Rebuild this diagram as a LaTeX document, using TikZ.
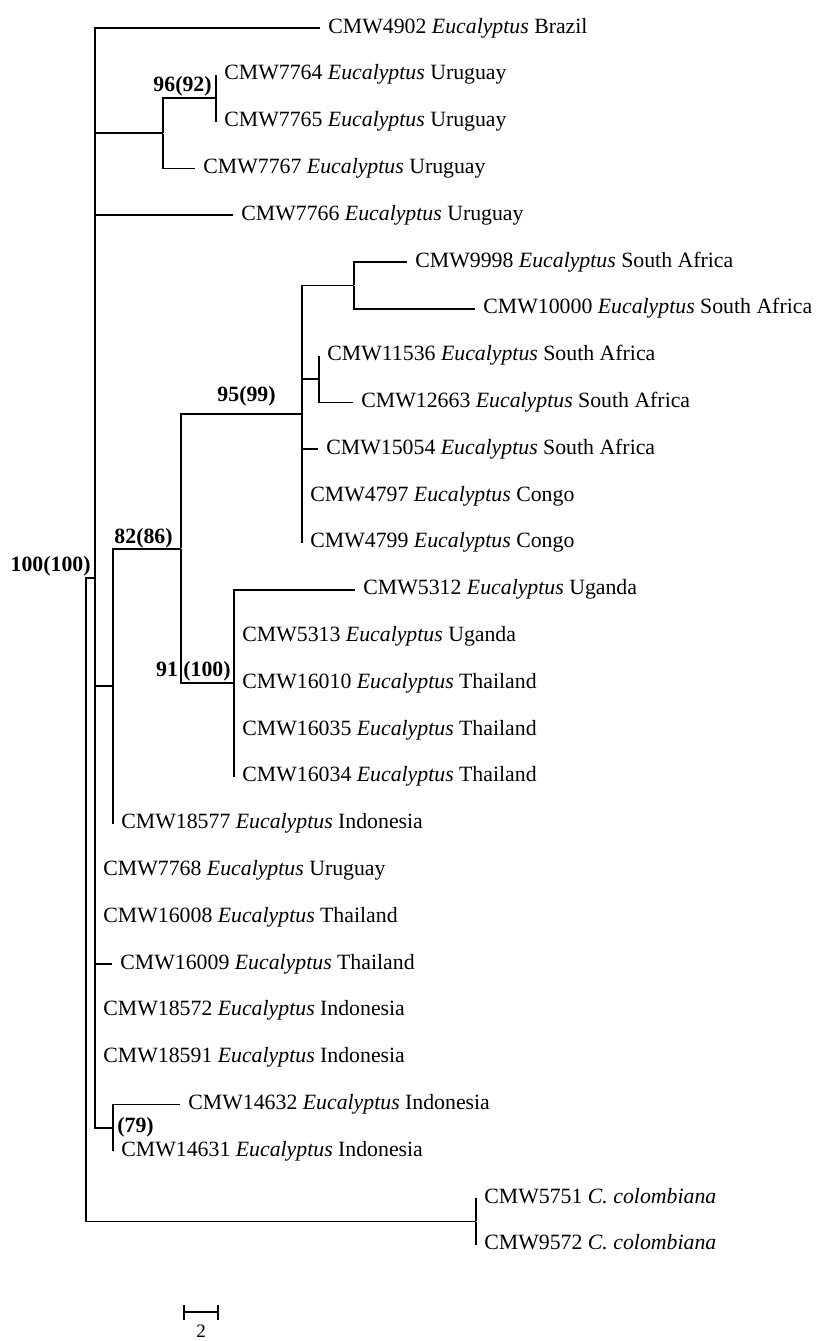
\documentclass[tikz,border=0pt]{standalone}
\usepackage{fontspec}
\setmainfont{Liberation Serif}
\usetikzlibrary{arrows.meta}
\tikzset{
    every node/.style={inner sep=0pt, minimum size=0pt,
    	font=\fontsize{21.8}{26}\selectfont}
}
\tikzset{
    every edge/.append style={line width=1.8pt, to path={|- (\tikztotarget)}}
}
\tikzset{
	tiplab/.style={anchor=base west, xshift=8pt, yshift=-5pt},
	boot/.style={font=\fontsize{21.8}{26}\selectfont\bfseries},
	scalebar/.style={line width=1.8pt, arrows={Bar[width=15pt]-Bar[width=15pt]}}
}

\begin{document}
\begin{tikzpicture}[x=1pt, y=-1pt]
	\useasboundingbox (0,0) rectangle (816,1341);
	% tips
	\node (1) [label={[tiplab]right:{CMW4902 \textit{Eucalyptus} Brazil}}] at (320, 28) {};
	\node (2) [label={[tiplab]right:{CMW7764 \textit{Eucalyptus} Uruguay}}] at (216, 74.8) {};
	\node (3) [label={[tiplab]right:{CMW7765 \textit{Eucalyptus} Uruguay}}] at (216, 121.6) {};
	\node (4) [label={[tiplab]right:{CMW7767 \textit{Eucalyptus} Uruguay}}] at (195, 168.4) {};
	\node (5) [label={[tiplab]right:{CMW7766 \textit{Eucalyptus} Uruguay}}] at (233, 215.2) {};
	\node (6) [label={[tiplab]right:{CMW9998 \textit{Eucalyptus} South Africa}}] at (407, 262) {};
	\node (7) [label={[tiplab]right:{CMW10000 \textit{Eucalyptus} South Africa}}] at (475, 308.8) {};
	\node (8) [label={[tiplab]right:{CMW11536 \textit{Eucalyptus} South Africa}}] at (319, 355.6) {};
	\node (9) [label={[tiplab]right:{CMW12663 \textit{Eucalyptus} South Africa}}] at (353, 402.4) {};
	\node (10) [label={[tiplab]right:{CMW15054 \textit{Eucalyptus} South Africa}}] at (318, 449.2) {};
	\node (11) [label={[tiplab]right:{CMW4797 \textit{Eucalyptus} Congo}}] at (302, 496) {};
	\node (12) [label={[tiplab]right:{CMW4799 \textit{Eucalyptus} Congo}}] at (302, 542.8) {};
	\node (13) [label={[tiplab]right:{CMW5312 \textit{Eucalyptus} Uganda}}] at (355, 589.6) {};
	\node (14) [label={[tiplab]right:{CMW5313 \textit{Eucalyptus} Uganda}}] at (234, 636.4) {};
	\node (15) [label={[tiplab]right:{CMW16010 \textit{Eucalyptus} Thailand}}] at (234, 683.2) {};
	\node (16) [label={[tiplab]right:{CMW16035 \textit{Eucalyptus} Thailand}}] at (234, 730) {};
	\node (17) [label={[tiplab]right:{CMW16034 \textit{Eucalyptus} Thailand}}] at (234, 776.8) {};
	\node (18) [label={[tiplab]right:{CMW18577 \textit{Eucalyptus} Indonesia}}] at (113, 823.6) {};
	\node (19) [label={[tiplab]right:{CMW7768 \textit{Eucalyptus} Uruguay}}] at (95, 870.4) {};
	\node (20) [label={[tiplab]right:{CMW16008 \textit{Eucalyptus} Thailand}}] at (95, 917.2) {};
	\node (21) [label={[tiplab]right:{CMW16009 \textit{Eucalyptus} Thailand}}] at (112, 964) {};
	\node (22) [label={[tiplab]right:{CMW18572 \textit{Eucalyptus} Indonesia}}] at (95, 1010.8) {};
	\node (23) [label={[tiplab]right:{CMW18591 \textit{Eucalyptus} Indonesia}}] at (95, 1057.6) {};
	\node (24) [label={[tiplab]right:{CMW14632 \textit{Eucalyptus} Indonesia}}] at (180, 1104.4) {};
	\node (25) [label={[tiplab]right:{CMW14631 \textit{Eucalyptus} Indonesia}}] at (113, 1151.2) {};
	\node (26) [label={[tiplab]right:{CMW5751 \textit{C. colombiana}}}] at (476, 1198) {};
	\node (27) [label={[tiplab]right:{CMW9572 \textit{C. colombiana}}}] at (476, 1244.8) {};

	% inner nodes
	\node (28) [label={[boot, anchor=base east, xshift=-4pt, yshift=7pt]left:{96(92)}}] at (216, 98.2) {};
	\node (29) at (163, 133.3) {};
	\node (30) at (354, 285.4) {};
	\node (31) at (319, 379) {};
	\node (32) [label={[boot, anchor=base east, xshift=-26pt, yshift=13pt]left:{95(99)}}] at (302, 414.1) {};
	\node (33) [label={[boot, anchor=base east, xshift=-3pt, yshift=7pt]left:{91 (100)}}] at (234, 683.2) {};
	\node (34) [label={[boot, anchor=base east, xshift=-8pt, yshift=5pt]left:{82(86)}}] at (181, 548.6) {};
	\node (35) at (113, 686.1) {};
	\node (36) [label={[boot, anchor=base west, xshift=4pt, yshift=-5pt]right:{(79)}}] at (113, 1127.8) {};
	\node (37) [label={[boot, anchor=base east, xshift=-4pt, yshift=6pt]left:{100(100)}}] at (95, 577.9) {};
	\node (38) at (476, 1221.4) {};
	\node (39) at (86, 899.7) {};

	\draw (28) edge (2); \draw (28) edge (3);
	\draw (29) edge (28); \draw (29) edge (4);
	\draw (30) edge (6); \draw (30) edge (7);
	\draw (31) edge (8); \draw (31) edge (9);
	\draw (32) edge (30); \draw (32) edge (31); \draw (32) edge (10);
	\draw (32) edge (11); \draw (32) edge (12);
	\draw (33) edge (13); \draw (33) edge (14); \draw (33) edge (15);
	\draw (33) edge (16); \draw (33) edge (17);
	\draw (34) edge (32); \draw (34) edge (33);
	\draw (35) edge (34); \draw (35) edge (18);
	\draw (36) edge (24); \draw (36) edge (25);

	\draw (37) edge (1); \draw (37) edge (29); \draw (37) edge (5);
	\draw (37) edge (35); \draw (37) edge (19); \draw (37) edge (20);
	\draw (37) edge (21); \draw (37) edge (22); \draw (37) edge (23);
	\draw (37) edge (36);
	\draw (38) edge (26); \draw (38) edge (27);
	\draw (39) edge (37); \draw (39) edge (38);

	% scale
	\node (40) at (183, 1312) {};
	\node (41) at (219, 1312) {};
	\draw [scalebar] (40) -- (41);
	\node (42) [anchor=base, font=\fontsize{19}{22}\selectfont] at (201, 1337) {2};
\end{tikzpicture}
\end{document}
